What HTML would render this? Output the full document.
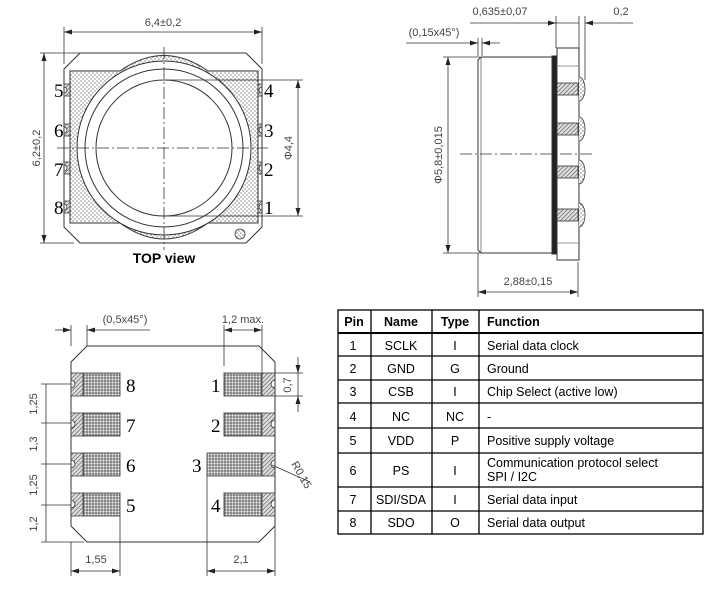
<!DOCTYPE html>
<html><head><meta charset="utf-8"><style>
html,body{margin:0;padding:0;background:#fff;}
svg{display:block;}
.t{font-family:"Liberation Sans",sans-serif;}
.d{font-family:"Liberation Sans",sans-serif;font-size:11px;fill:#444;}
.n{font-family:"Liberation Serif",serif;font-size:19px;fill:#000;}
</style></head><body>
<svg width="711" height="589" viewBox="0 0 711 589" xmlns="http://www.w3.org/2000/svg">
<defs>
<pattern id="dots" width="4" height="4" patternUnits="userSpaceOnUse"><rect width="4" height="4" fill="#fff"/><circle cx="1" cy="1" r="0.6" fill="#444"/><circle cx="3" cy="3" r="0.6" fill="#444"/></pattern>
<pattern id="grid" width="3" height="3" patternUnits="userSpaceOnUse"><rect width="3" height="3" fill="#777"/><circle cx="1.5" cy="1.5" r="1.1" fill="#eee"/></pattern>
<pattern id="hatch" width="3" height="3" patternUnits="userSpaceOnUse" patternTransform="rotate(45)"><rect width="3" height="3" fill="#ddd"/><line x1="0" y1="0" x2="0" y2="3" stroke="#555" stroke-width="1.2"/></pattern>
<marker id="ar" markerWidth="8" markerHeight="6" refX="8" refY="3" orient="auto-start-reverse" markerUnits="userSpaceOnUse"><path d="M0,0.5 L8,3 L0,5.5z" fill="#222"/></marker>
</defs>

<!-- ================= TOP VIEW ================= -->
<g stroke="#333" fill="none" stroke-width="1">
<path d="M80,53 L246,53 L262,69 L262,227 L246,243 L80,243 L64,227 L64,69 Z" fill="#fff"/>
<path d="M70,71 L120,71 Q164,40 208,71 L258,71 L258,223 L208,223 Q164,255 120,223 L70,223 Z" fill="url(#dots)"/>
<circle cx="164" cy="148" r="87" fill="#fff"/>
<circle cx="164" cy="148" r="79"/>
<circle cx="164" cy="148" r="68"/>
</g>
<g stroke="#333" stroke-width="0.8" fill="url(#hatch)">
<path d="M64,84 h6 v12 h-6 v-3 a3,3 0 0 0 0,-6z"/>
<path d="M64,124 h6 v12 h-6 v-3 a3,3 0 0 0 0,-6z"/>
<path d="M64,162 h6 v12 h-6 v-3 a3,3 0 0 0 0,-6z"/>
<path d="M64,201 h6 v12 h-6 v-3 a3,3 0 0 0 0,-6z"/>
<path d="M262,84 h-4 v12 h4 v-3 a3,3 0 0 1 0,-6z"/>
<path d="M262,124 h-4 v12 h4 v-3 a3,3 0 0 1 0,-6z"/>
<path d="M262,162 h-4 v12 h4 v-3 a3,3 0 0 1 0,-6z"/>
<path d="M262,201 h-4 v12 h4 v-3 a3,3 0 0 1 0,-6z"/>
</g>
<circle cx="240" cy="234" r="5" fill="url(#dots)" stroke="#333" stroke-width="0.8"/>
<g stroke="#333" stroke-width="0.8" stroke-dasharray="12,3,2,3">
<line x1="164" y1="47" x2="164" y2="250"/><line x1="57" y1="148" x2="268" y2="148"/>
</g>
<g class="n"><text x="54" y="97">5</text><text x="54" y="137">6</text><text x="54" y="176">7</text><text x="54" y="214">8</text>
<text x="264" y="97">4</text><text x="264" y="137">3</text><text x="264" y="176">2</text><text x="264" y="214">1</text></g>
<text class="t" x="164" y="263" font-size="14" font-weight="bold" text-anchor="middle">TOP view</text>
<g stroke="#333" stroke-width="0.8" fill="none">
<line x1="64" y1="27" x2="64" y2="64"/><line x1="262" y1="27" x2="262" y2="64"/>
<line x1="64" y1="32" x2="262" y2="32" marker-start="url(#ar)" marker-end="url(#ar)"/>
<line x1="40" y1="53" x2="80" y2="53"/><line x1="40" y1="243" x2="74" y2="243"/>
<line x1="44" y1="53" x2="44" y2="243" marker-start="url(#ar)" marker-end="url(#ar)"/>
<line x1="164" y1="80" x2="303" y2="80"/><line x1="164" y1="216" x2="303" y2="216"/>
<line x1="298" y1="80" x2="298" y2="216" marker-start="url(#ar)" marker-end="url(#ar)"/>
</g>
<text class="d" x="163" y="26" text-anchor="middle">6,4±0,2</text>
<text class="d" transform="translate(40,148) rotate(-90)" text-anchor="middle">6,2±0,2</text>
<text class="d" transform="translate(292,148) rotate(-90)" text-anchor="middle">Φ4,4</text>

<!-- ================= SIDE VIEW ================= -->
<g stroke="#333" stroke-width="1" fill="#fff">
<path d="M481,57 L553,57 L553,253 L481,253 L478,250 L478,60 Z"/>
<line x1="481" y1="57" x2="481" y2="253" stroke-width="0.6"/>
<rect x="552" y="56" width="5" height="198" fill="#222"/>
<rect x="557" y="48" width="22" height="212"/>
<line x1="557" y1="66" x2="579" y2="66" stroke="#999"/><line x1="557" y1="243" x2="579" y2="243" stroke="#999"/>
</g>
<g stroke="#333" stroke-width="0.8">
<rect x="557" y="83" width="21" height="12" fill="url(#hatch)"/>
<rect x="557" y="123" width="21" height="12" fill="url(#hatch)"/>
<rect x="557" y="166" width="21" height="12" fill="url(#hatch)"/>
<rect x="557" y="209" width="21" height="12" fill="url(#hatch)"/>
<path d="M579,77 a6,12 0 0 1 0,24" fill="url(#dots)"/>
<path d="M579,117 a6,12 0 0 1 0,24" fill="url(#dots)"/>
<path d="M579,160 a6,12 0 0 1 0,24" fill="url(#dots)"/>
<path d="M579,203 a6,12 0 0 1 0,24" fill="url(#dots)"/>
</g>
<line x1="460" y1="154" x2="592" y2="154" stroke="#333" stroke-width="0.8" stroke-dasharray="12,3,2,3"/>
<g stroke="#333" stroke-width="0.8" fill="none">
<line x1="443" y1="57" x2="480" y2="57"/><line x1="443" y1="253" x2="480" y2="253"/>
<line x1="448" y1="57" x2="448" y2="253" marker-start="url(#ar)" marker-end="url(#ar)"/>
<line x1="556" y1="16" x2="556" y2="48"/><line x1="579" y1="16" x2="579" y2="48"/><line x1="585" y1="16" x2="585" y2="80"/>
<line x1="470" y1="23" x2="556" y2="23" marker-end="url(#ar)"/>
<line x1="556" y1="23" x2="579" y2="23"/>
<line x1="633" y1="23" x2="585" y2="23" marker-end="url(#ar)"/>
<line x1="406" y1="43" x2="478" y2="43" marker-end="url(#ar)"/>
<line x1="500" y1="43" x2="482" y2="43" marker-end="url(#ar)"/>
<line x1="478" y1="38" x2="478" y2="56"/><line x1="482" y1="38" x2="482" y2="56"/>
<line x1="478" y1="253" x2="478" y2="297"/><line x1="578" y1="262" x2="578" y2="297"/>
<line x1="478" y1="292" x2="578" y2="292" marker-start="url(#ar)" marker-end="url(#ar)"/>
</g>
<text class="d" x="500" y="15" text-anchor="middle">0,635±0,07</text>
<text class="d" x="621" y="15" text-anchor="middle">0,2</text>
<text class="d" x="434" y="36" text-anchor="middle">(0,15x45°)</text>
<text class="d" x="528" y="285" text-anchor="middle">2,88±0,15</text>
<text class="d" transform="translate(442,155) rotate(-90)" text-anchor="middle">Φ5,8±0,015</text>

<!-- ================= BOTTOM VIEW ================= -->
<path d="M87,346 L259,346 L275,362 L275,526 L259,542 L87,542 L71,526 L71,362 Z" fill="#fff" stroke="#333" stroke-width="1"/>
<g stroke="#333" stroke-width="0.8">
<g fill="url(#grid)">
<rect x="83" y="373" width="37" height="23"/><rect x="83" y="413" width="37" height="23"/><rect x="83" y="453" width="37" height="23"/><rect x="83" y="493" width="37" height="23"/>
<rect x="224" y="373" width="38" height="23"/><rect x="224" y="413" width="38" height="23"/><rect x="207" y="453" width="55" height="23"/><rect x="224" y="493" width="38" height="23"/>
</g>
<g fill="url(#hatch)">
<path d="M71,373 h12 v23 h-12 v-8 a4,4 0 0 0 0,-8z"/>
<path d="M71,413 h12 v23 h-12 v-8 a4,4 0 0 0 0,-8z"/>
<path d="M71,453 h12 v23 h-12 v-8 a4,4 0 0 0 0,-8z"/>
<path d="M71,493 h12 v23 h-12 v-8 a4,4 0 0 0 0,-8z"/>
<path d="M275,373 h-13 v23 h13 v-8 a4,4 0 0 1 0,-8z"/>
<path d="M275,413 h-13 v23 h13 v-8 a4,4 0 0 1 0,-8z"/>
<path d="M275,453 h-13 v23 h13 v-8 a4,4 0 0 1 0,-8z"/>
<path d="M275,493 h-13 v23 h13 v-8 a4,4 0 0 1 0,-8z"/>
</g>
</g>
<g class="n"><text x="126" y="392">8</text><text x="126" y="432">7</text><text x="126" y="472">6</text><text x="126" y="512">5</text>
<text x="211" y="392">1</text><text x="211" y="432">2</text><text x="192" y="472">3</text><text x="211" y="512">4</text></g>
<g stroke="#333" stroke-width="0.8" fill="none">
<line x1="71" y1="325" x2="71" y2="346"/><line x1="87" y1="325" x2="87" y2="346"/>
<line x1="55" y1="330" x2="71" y2="330" marker-end="url(#ar)"/>
<line x1="150" y1="330" x2="87" y2="330" marker-end="url(#ar)"/>
<line x1="224" y1="325" x2="224" y2="366"/><line x1="262" y1="325" x2="262" y2="373"/>
<line x1="224" y1="330" x2="262" y2="330" marker-start="url(#ar)" marker-end="url(#ar)"/>
<line x1="275" y1="373" x2="303" y2="373"/><line x1="275" y1="396" x2="303" y2="396"/>
<line x1="298" y1="357" x2="298" y2="373" marker-end="url(#ar)"/>
<line x1="298" y1="412" x2="298" y2="396" marker-end="url(#ar)"/>
<line x1="298" y1="373" x2="298" y2="396"/>
<line x1="41" y1="384" x2="71" y2="384"/><line x1="41" y1="423" x2="71" y2="423"/><line x1="41" y1="464" x2="71" y2="464"/><line x1="41" y1="505" x2="71" y2="505"/><line x1="41" y1="542" x2="84" y2="542"/>
<line x1="46" y1="384" x2="46" y2="542"/>
<line x1="71" y1="542" x2="71" y2="576"/><line x1="120" y1="516" x2="120" y2="576"/>
<line x1="71" y1="571" x2="120" y2="571" marker-start="url(#ar)" marker-end="url(#ar)"/>
<line x1="207" y1="476" x2="207" y2="576"/><line x1="275" y1="526" x2="275" y2="576"/>
<line x1="207" y1="571" x2="275" y2="571" marker-start="url(#ar)" marker-end="url(#ar)"/>
<line x1="272" y1="465" x2="310" y2="482"/>
</g>
<text class="d" x="125" y="323" text-anchor="middle">(0,5x45°)</text>
<text class="d" x="243" y="323" text-anchor="middle">1,2  max.</text>
<text class="d" transform="translate(291,385) rotate(-90)" text-anchor="middle">0,7</text>
<text class="d" transform="translate(37,404) rotate(-90)" text-anchor="middle">1,25</text>
<text class="d" transform="translate(37,444) rotate(-90)" text-anchor="middle">1,3</text>
<text class="d" transform="translate(37,485) rotate(-90)" text-anchor="middle">1,25</text>
<text class="d" transform="translate(37,524) rotate(-90)" text-anchor="middle">1,2</text>
<text class="d" x="96" y="563" text-anchor="middle">1,55</text>
<text class="d" x="241" y="563" text-anchor="middle">2,1</text>
<text class="d" transform="translate(291,464) rotate(60)">R0,15</text>

<!-- ================= TABLE ================= -->
<g stroke="#000" stroke-width="1.3" fill="none">
<rect x="338" y="310" width="365" height="224"/>
<line x1="338" y1="333" x2="703" y2="333" stroke-width="2"/>
<line x1="338" y1="356" x2="703" y2="356"/><line x1="338" y1="380" x2="703" y2="380"/><line x1="338" y1="403" x2="703" y2="403"/>
<line x1="338" y1="428" x2="703" y2="428"/><line x1="338" y1="453" x2="703" y2="453"/><line x1="338" y1="487" x2="703" y2="487"/><line x1="338" y1="511" x2="703" y2="511"/>
<line x1="371" y1="310" x2="371" y2="534"/><line x1="432" y1="310" x2="432" y2="534"/><line x1="479" y1="310" x2="479" y2="534"/>
</g>
<g class="t" font-size="12.5" fill="#000">
<g font-weight="bold"><text x="354" y="326" text-anchor="middle">Pin</text><text x="401" y="326" text-anchor="middle">Name</text><text x="455" y="326" text-anchor="middle">Type</text><text x="487" y="326">Function</text></g>
<g text-anchor="middle">
<text x="353" y="350">1</text><text x="401" y="350">SCLK</text><text x="455" y="350">I</text>
<text x="353" y="373">2</text><text x="401" y="373">GND</text><text x="455" y="373">G</text>
<text x="353" y="396">3</text><text x="401" y="396">CSB</text><text x="455" y="396">I</text>
<text x="353" y="421">4</text><text x="401" y="421">NC</text><text x="455" y="421">NC</text>
<text x="353" y="445">5</text><text x="401" y="445">VDD</text><text x="455" y="445">P</text>
<text x="353" y="475">6</text><text x="401" y="475">PS</text><text x="455" y="475">I</text>
<text x="353" y="504">7</text><text x="401" y="504">SDI/SDA</text><text x="455" y="504">I</text>
<text x="353" y="527">8</text><text x="401" y="527">SDO</text><text x="455" y="527">O</text>
</g>
<text x="487" y="350">Serial data clock</text>
<text x="487" y="373">Ground</text>
<text x="487" y="396">Chip Select (active low)</text>
<text x="487" y="421">-</text>
<text x="487" y="445">Positive supply voltage</text>
<text x="487" y="467">Communication protocol select</text>
<text x="487" y="481">SPI / I2C</text>
<text x="487" y="504">Serial data input</text>
<text x="487" y="527">Serial data output</text>
</g>
</svg>
</body></html>
